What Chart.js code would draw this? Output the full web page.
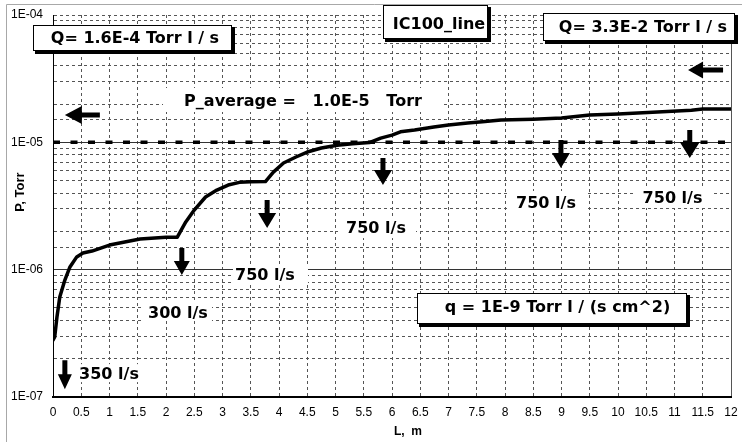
<!DOCTYPE html>
<html><head><meta charset="utf-8">
<script src="https://cdn.jsdelivr.net/npm/chart.js@4.4.1/dist/chart.umd.min.js"></script>
<style>html,body{margin:0;padding:0;background:#fff;}#wrap{width:742px;height:442px;}</style>
</head><body><div id="wrap"><canvas id="c" width="742" height="442"></canvas></div>
<script>
const L_m    = [0, 0.03, 0.07, 0.12, 0.21, 0.3, 0.42, 0.53, 0.69, 1.0, 1.54, 2.0, 2.2,
                2.35, 2.5, 2.7, 2.9, 3.1, 3.3, 3.5, 3.76,
                3.9, 4.08, 4.3, 4.5, 4.75, 5.03, 5.3, 5.6,
                5.8, 6.0, 6.15, 6.4, 6.74, 7.0, 7.34, 7.6, 7.93, 8.5, 9.0,
                9.5, 10.0, 10.7, 11.3, 11.5, 12];
const P_torr = [2.8e-7, 2.96e-7, 4.25e-7, 6.09e-7, 8.28e-7, 1.05e-6, 1.26e-6, 1.35e-6, 1.40e-6, 1.56e-6, 1.74e-6, 1.80e-6, 1.80e-6,
                2.37e-6, 2.94e-6, 3.72e-6, 4.22e-6, 4.62e-6, 4.85e-6, 4.9e-6, 4.92e-6,
                5.84e-6, 6.88e-6, 7.67e-6, 8.39e-6, 9.02e-6, 9.5e-6, 9.75e-6, 9.95e-6,
                1.08e-5, 1.14e-5, 1.21e-5, 1.25e-5, 1.32e-5, 1.37e-5, 1.42e-5, 1.45e-5, 1.50e-5, 1.52e-5, 1.55e-5,
                1.64e-5, 1.67e-5, 1.73e-5, 1.79e-5, 1.83e-5, 1.83e-5];
const avgL = [0, 12];
const avgP = [1.0e-5, 1.0e-5];
const xMin = 0, xMax = 12, xStep = 0.5;
const yMin = 1e-7, yMax = 1e-4;
const xTitle = 'L,  m';
const yTitle = 'P, Torr';

const boxNotes = [
  {text:'Q= 1.6E-4 Torr l / s', L:1.451, P:6.66e-5, l:-102, r:97, t:-12.5, b:13.5},
  {text:'IC100_line', L:6.832, P:8.65e-5, l:-56, r:49, t:-18, b:16},
  {text:'Q= 3.3E-2 Torr l / s', L:10.442, P:8.19e-5, l:-100, r:92, t:-13, b:15},
  {text:'q = 1E-9 Torr l / (s cm^2)', L:8.929, P:5.18e-7, l:-140.5, r:129.5, t:-13, b:18}
];
const textNotes = [
  {text:'P_average =   1.0E-5   Torr', L:4.425, P:2.15e-5, l:-140, r:140, t:-12, b:12},
  {text:'750 l/s', L:3.752, P:9.23e-7, l:-32, r:43, t:-10, b:10},
  {text:'750 l/s', L:5.717, P:2.16e-6, l:-38, r:40, t:-11, b:11},
  {text:'750 l/s', L:8.726, P:3.40e-6, l:-38, r:40, t:-11, b:11},
  {text:'750 l/s', L:10.965, P:3.72e-6, l:-38, r:40, t:-11, b:11},
  {text:'300 l/s', L:2.212, P:4.65e-7, l:-34, r:34, t:-9, b:9},
  {text:'350 l/s', L:0.991, P:1.54e-7, l:-34, r:34, t:-9, b:9}
];
const arrows = [
  {L:0.21, P:1.15e-7, dir:'down', len:29, hw:14, hl:15},
  {L:2.28, P:9.07e-7, dir:'down', len:27, hw:16, hl:14},
  {L:3.79, P:2.12e-6, dir:'down', len:28, hw:18, hl:15},
  {L:5.84, P:4.62e-6, dir:'down', len:27, hw:18, hl:15},
  {L:8.99, P:6.28e-6, dir:'down', len:28, hw:18, hl:15},
  {L:11.27, P:7.53e-6, dir:'down', len:28, hw:20, hl:16},
  {L:0.21, P:1.64e-5, dir:'left', len:35, hw:18, hl:17},
  {L:11.24, P:3.70e-5, dir:'left', len:35, hw:17, hl:15}
];

Chart.defaults.font.family = '"Liberation Sans", Arial, sans-serif';
Chart.defaults.color = '#000';

const isDecade = v => { const e = Math.log10(v); return Math.abs(e - Math.round(e)) < 1e-6; };
const fmtE = v => { const e = Math.round(Math.log10(v)); return '1E' + (e < 0 ? '-' : '+') + String(Math.abs(e)).padStart(2, '0'); };
const NOTE_FONT = 'bold 16px "DejaVu Sans"';

const annot = {
  id: 'annot',
  beforeDraw(chart) {
    const ctx = chart.ctx;
    ctx.save();
    ctx.fillStyle = '#fff'; ctx.fillRect(0, 0, chart.width, chart.height);
    ctx.strokeStyle = '#a8a8a8'; ctx.lineWidth = 1;
    ctx.beginPath(); ctx.moveTo(6.5, chart.height); ctx.lineTo(6.5, 4.5); ctx.lineTo(chart.width, 4.5); ctx.stroke();
    ctx.restore();
  },
  afterDatasetsDraw(chart) {
    const ctx = chart.ctx, xs = chart.scales.x, ys = chart.scales.y;
    const pos = (L, P) => [xs.getPixelForValue(L), ys.getPixelForValue(P)];
    ctx.save();
    ctx.font = NOTE_FONT; ctx.textAlign = 'center'; ctx.textBaseline = 'alphabetic';
    for (const n of textNotes) {
      const [x, y] = pos(n.L, n.P);
      ctx.fillStyle = '#fff'; ctx.fillRect(x + n.l, y + n.t, n.r - n.l, n.b - n.t);
      ctx.fillStyle = '#000'; ctx.fillText(n.text, x, y + 6);
    }
    for (const a of arrows) {
      const [x, y] = pos(a.L, a.P);
      const sw = 5;
      ctx.fillStyle = '#000'; ctx.beginPath();
      if (a.dir === 'down') {
        ctx.moveTo(x - sw / 2, y - a.len); ctx.lineTo(x + sw / 2, y - a.len);
        ctx.lineTo(x + sw / 2, y - a.hl); ctx.lineTo(x + a.hw / 2, y - a.hl);
        ctx.lineTo(x, y); ctx.lineTo(x - a.hw / 2, y - a.hl); ctx.lineTo(x - sw / 2, y - a.hl);
      } else {
        ctx.moveTo(x + a.len, y - sw / 2); ctx.lineTo(x + a.len, y + sw / 2);
        ctx.lineTo(x + a.hl, y + sw / 2); ctx.lineTo(x + a.hl, y + a.hw / 2);
        ctx.lineTo(x, y); ctx.lineTo(x + a.hl, y - a.hw / 2); ctx.lineTo(x + a.hl, y - sw / 2);
      }
      ctx.closePath(); ctx.fill();
    }
    for (const b of boxNotes) {
      const [x, y] = pos(b.L, b.P);
      const x1 = Math.round(x + b.l), x2 = Math.round(x + b.r), y1 = Math.round(y + b.t), y2 = Math.round(y + b.b);
      ctx.fillStyle = '#000'; ctx.fillRect(x1 + 2, y1 + 2, x2 - x1 + 1, y2 - y1 + 1);
      ctx.fillStyle = '#fff'; ctx.fillRect(x1, y1, x2 - x1, y2 - y1);
      ctx.strokeStyle = '#000'; ctx.lineWidth = 1; ctx.strokeRect(x1 + 0.5, y1 + 0.5, x2 - x1 - 1, y2 - y1 - 1);
      ctx.fillStyle = '#000'; ctx.fillText(b.text, x, y + 6);
    }
    ctx.restore();
  },
  afterDraw(chart) {
    const ctx = chart.ctx, ca = chart.chartArea;
    ctx.save();
    ctx.fillStyle = '#000';
    ctx.font = 'bold 12px "Liberation Sans", Arial, sans-serif';
    ctx.textAlign = 'center'; ctx.textBaseline = 'middle';
    ctx.fillText(xTitle, (ca.left + ca.right) / 2 + 16, 432);
    ctx.translate(20, (ca.top + ca.bottom) / 2 - 14);
    ctx.rotate(-Math.PI / 2);
    ctx.font = 'bold 13px "Liberation Sans", Arial, sans-serif';
    ctx.fillText(yTitle, 0, 0);
    ctx.restore();
  }
};

new Chart(document.getElementById('c'), {
  type: 'scatter',
  data: {
    datasets: [
      {data: L_m.map((x, i) => ({x, y: P_torr[i]})), showLine: true, borderColor: '#000', backgroundColor: '#000',
       borderWidth: 3.5, pointRadius: 0, tension: 0, borderJoinStyle: 'round', borderCapStyle: 'round', fill: false},
      {data: avgL.map((x, i) => ({x, y: avgP[i]})), showLine: true, borderColor: '#000', backgroundColor: '#000',
       borderWidth: 3.5, borderDash: [7, 10.5], pointRadius: 0, fill: false}
    ]
  },
  options: {
    responsive: false, animation: false, devicePixelRatio: 1,
    layout: {padding: {left: 0, top: 15, right: 11, bottom: 0}},
    plugins: {legend: {display: false}, tooltip: {enabled: false}},
    scales: {
      x: {
        type: 'linear', min: xMin, max: xMax,
        afterFit(s) { s.height = 45; s.paddingLeft = 0; s.paddingRight = 0; },
        ticks: {stepSize: xStep, autoSkip: false, maxRotation: 0, padding: 8, font: {size: 12}, color: '#000',
          callback: v => String(Math.round(v * 10) / 10)},
        grid: {color: '#555', lineWidth: 1, drawTicks: false},
        border: {display: true, color: '#000', width: 2,
          dash: c => (c.tick && Math.abs(c.tick.value - xMax) < 1e-9) ? [] : [3, 3]}
      },
      y: {
        type: 'logarithmic', min: yMin, max: yMax,
        afterFit(s) { s.width = 53; s.paddingTop = 0; s.paddingBottom = 0; },
        ticks: {autoSkip: false, padding: 10, font: {size: 12}, color: '#000',
          callback: v => isDecade(v) ? fmtE(v) : ''},
        grid: {color: c => (c.tick && isDecade(c.tick.value) && c.tick.value < yMax * 0.5) ? '#333' : '#555',
          lineWidth: 1, drawTicks: false},
        border: {display: true, color: '#000', width: 1,
          dash: c => (c.tick && isDecade(c.tick.value) && c.tick.value < yMax * 0.5) ? [] : [3, 3]}
      }
    }
  },
  plugins: [annot]
});
</script></body></html>
